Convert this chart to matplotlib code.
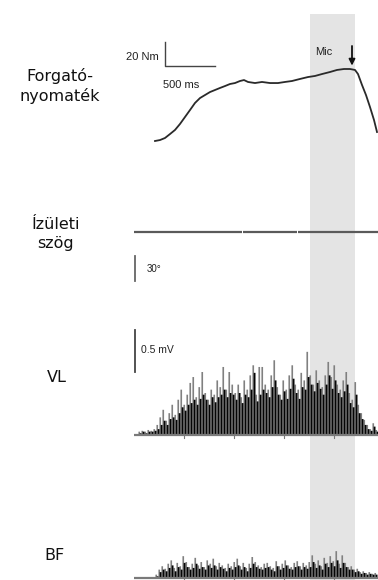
import numpy as np
import matplotlib
matplotlib.use('Agg')
import matplotlib.pyplot as plt

W, H = 378, 580

# torque trace (time ms, Nm)
torque_t = [210, 260, 310, 360, 410, 460, 510, 560, 610, 660, 710, 760, 810, 860,
            910, 960, 1010, 1060, 1100, 1140, 1210, 1280, 1360, 1440, 1510, 1580,
            1660, 1740, 1810, 1880, 1960, 2030, 2100, 2160, 2210, 2240, 2280, 2320,
            2360, 2400, 2430]
torque_nm = [7.5, 8.3, 10.0, 13.3, 16.7, 21.7, 27.5, 33.3, 39.2, 43.3, 45.8, 48.3,
             50.0, 51.7, 53.3, 55.0, 55.8, 57.5, 58.3, 56.7, 55.8, 56.7, 55.8, 55.8,
             56.7, 57.5, 59.2, 60.8, 61.7, 63.3, 65.0, 66.7, 67.5, 67.5, 66.7, 63.3,
             54.2, 45.8, 35.8, 25.0, 15.0]

# joint angle (flat), drawn as segments
angle_seg_t = [(0, 1075), (1085, 1625), (1635, 2440)]
angle_deg = 0.0

# rectified EMG, VL (mV), bins every 30 ms from 60 ms
vl_t0, vl_dt = 60, 30
vl_gray = [0.04, 0.05, 0.04, 0.06, 0.05, 0.07, 0.12, 0.21, 0.30, 0.17,
           0.26, 0.36, 0.24, 0.42, 0.54, 0.36, 0.48, 0.62, 0.69, 0.45,
           0.57, 0.75, 0.50, 0.42, 0.54, 0.48, 0.65, 0.57, 0.81, 0.54,
           0.75, 0.60, 0.50, 0.60, 0.45, 0.65, 0.54, 0.71, 0.83, 0.48,
           0.81, 0.81, 0.60, 0.54, 0.71, 0.89, 0.57, 0.48, 0.65, 0.54,
           0.71, 0.83, 0.60, 0.54, 0.74, 0.65, 0.99, 0.71, 0.60, 0.77,
           0.65, 0.57, 0.71, 0.87, 0.69, 0.83, 0.60, 0.54, 0.65, 0.75,
           0.50, 0.42, 0.63, 0.36, 0.26, 0.18, 0.12, 0.07, 0.14, 0.06]
vl_black = [0.02, 0.04, 0.02, 0.04, 0.04, 0.05, 0.07, 0.12, 0.17, 0.12,
            0.19, 0.21, 0.18, 0.26, 0.33, 0.29, 0.36, 0.38, 0.42, 0.36,
            0.43, 0.48, 0.42, 0.36, 0.45, 0.39, 0.45, 0.48, 0.54, 0.45,
            0.50, 0.48, 0.42, 0.50, 0.38, 0.48, 0.45, 0.54, 0.74, 0.40,
            0.48, 0.54, 0.50, 0.45, 0.57, 0.65, 0.48, 0.42, 0.52, 0.43,
            0.55, 0.67, 0.50, 0.43, 0.57, 0.54, 0.69, 0.60, 0.52, 0.62,
            0.55, 0.48, 0.60, 0.71, 0.55, 0.65, 0.50, 0.45, 0.52, 0.60,
            0.38, 0.33, 0.48, 0.26, 0.19, 0.12, 0.07, 0.05, 0.10, 0.04]

# rectified EMG, BF (mV), bins every 30 ms from 230 ms
bf_t0, bf_dt = 230, 30
bf_gray = [0.04, 0.10, 0.14, 0.11, 0.17, 0.21, 0.12, 0.18, 0.14, 0.26,
           0.19, 0.13, 0.17, 0.24, 0.15, 0.19, 0.13, 0.21, 0.17, 0.23,
           0.14, 0.18, 0.15, 0.12, 0.17, 0.14, 0.19, 0.23, 0.14, 0.18,
           0.12, 0.17, 0.25, 0.19, 0.15, 0.13, 0.17, 0.18, 0.14, 0.12,
           0.20, 0.14, 0.17, 0.21, 0.15, 0.13, 0.18, 0.20, 0.14, 0.18,
           0.15, 0.19, 0.27, 0.17, 0.21, 0.14, 0.24, 0.18, 0.26, 0.20,
           0.32, 0.17, 0.27, 0.18, 0.13, 0.14, 0.10, 0.11, 0.07, 0.08,
           0.06, 0.07, 0.05, 0.06]
bf_black = [0.02, 0.07, 0.10, 0.08, 0.12, 0.15, 0.08, 0.13, 0.10, 0.18,
            0.13, 0.10, 0.12, 0.17, 0.11, 0.13, 0.10, 0.15, 0.12, 0.15,
            0.10, 0.13, 0.11, 0.08, 0.12, 0.10, 0.13, 0.15, 0.10, 0.13,
            0.08, 0.12, 0.17, 0.13, 0.11, 0.10, 0.12, 0.13, 0.10, 0.08,
            0.14, 0.10, 0.12, 0.15, 0.11, 0.10, 0.13, 0.14, 0.10, 0.13,
            0.11, 0.13, 0.19, 0.12, 0.15, 0.10, 0.17, 0.13, 0.18, 0.14,
            0.21, 0.12, 0.18, 0.13, 0.10, 0.10, 0.07, 0.08, 0.05, 0.06,
            0.04, 0.05, 0.04, 0.04]

mic_window = (1760, 2210)
tick_ms = [500, 1000, 1500, 2000]
XLIM = (0, 2440)


def px_axes(fig, left, top, right, bottom):
    ax = fig.add_axes([left / W, 1 - bottom / H, (right - left) / W, (bottom - top) / H])
    ax.set_xlim(*XLIM)
    ax.axis('off')
    return ax


def emg_bars(ax, t0, dt, gray, black):
    t = t0 + dt * np.arange(len(gray))
    g = ax.bar(t - dt * 0.25, gray, width=dt * 0.55, color='#808080', linewidth=0, zorder=2)
    b = ax.bar(t + dt * 0.2, black, width=dt * 0.6, color='#050505', linewidth=0, zorder=3)
    for p in list(g) + list(b):
        p.set_snap(False)


def baseline(ax, tick_len):
    ax.plot(XLIM, [0, 0], color='#7a7a7a', lw=1.6, zorder=4, solid_capstyle='butt')
    for tk in tick_ms:
        ax.plot([tk, tk], [0, -tick_len], color='#7a7a7a', lw=0.8, zorder=4)


fig = plt.figure(figsize=(W / 100, H / 100), dpi=100)
fig.patch.set_facecolor('white')

# shaded window spanning all panels
bg = px_axes(fig, 134, 14, 378, 580)
bg.set_ylim(0, 1)
bg.axvspan(*mic_window, color='#e4e4e4', lw=0, zorder=0)

lab = dict(fontsize=11.5, family='DejaVu Sans', color='#111111', ha='center', va='center')
fig.text(60 / W, 1 - 86 / H, 'Forgató-\nnyomaték', linespacing=1.35, **lab)
fig.text(56 / W, 1 - 234 / H, 'Ízületi\nszög', linespacing=1.35, **lab)
fig.text(57 / W, 1 - 377 / H, 'VL', **lab)
fig.text(55 / W, 1 - 555 / H, 'BF', **lab)

small = dict(family='Liberation Sans', color='#222222')

# torque
ax = px_axes(fig, 134, 30, 378, 150)
ax.set_ylim(0, 100)
ax.plot(torque_t, torque_nm, color='#2a2a2a', lw=1.3)
ax.plot([310, 310, 810], [90, 70, 70], color='#444444', lw=1.0)
ax.text(250, 77.5, '20 Nm', ha='right', va='center', fontsize=8, **small)
ax.text(290, 54, '500 ms', ha='left', va='center', fontsize=8, **small)
ax.text(1810, 81.5, 'Mic', ha='left', va='center', fontsize=8, **small)
ax.annotate('', xy=(2180, 68), xytext=(2180, 89),
            arrowprops=dict(arrowstyle='-|>', color='#111111', lw=1.3, mutation_scale=9))

# joint angle
ax = px_axes(fig, 134, 200, 378, 290)
ax.set_ylim(-69.6, 38.4)
for a, b in angle_seg_t:
    ax.plot([a, b], [angle_deg, angle_deg], color='#5a5a5a', lw=1.6, solid_capstyle='butt')
ax.plot([5, 5], [-29, -59], color='#666666', lw=1.3)
ax.text(130, -45, '30°', ha='left', va='center', fontsize=7, **small)

# VL
ax = px_axes(fig, 134, 320, 378, 440)
ax.set_ylim(-5 / 84, 115 / 84)
emg_bars(ax, vl_t0, vl_dt, vl_gray, vl_black)
baseline(ax, 0.035)
ax.plot([5, 5], [0.75, 1.25], color='#444444', lw=1.3)
ax.text(70, 1.01, '0.5 mV', ha='left', va='center', fontsize=7.5, **small)

# BF
ax = px_axes(fig, 134, 520, 378, 580)
ax.set_ylim(-2 / 84, 58 / 84)
emg_bars(ax, bf_t0, bf_dt, bf_gray, bf_black)
baseline(ax, 0.02)

fig.savefig('out.png', dpi=100, facecolor='white')
